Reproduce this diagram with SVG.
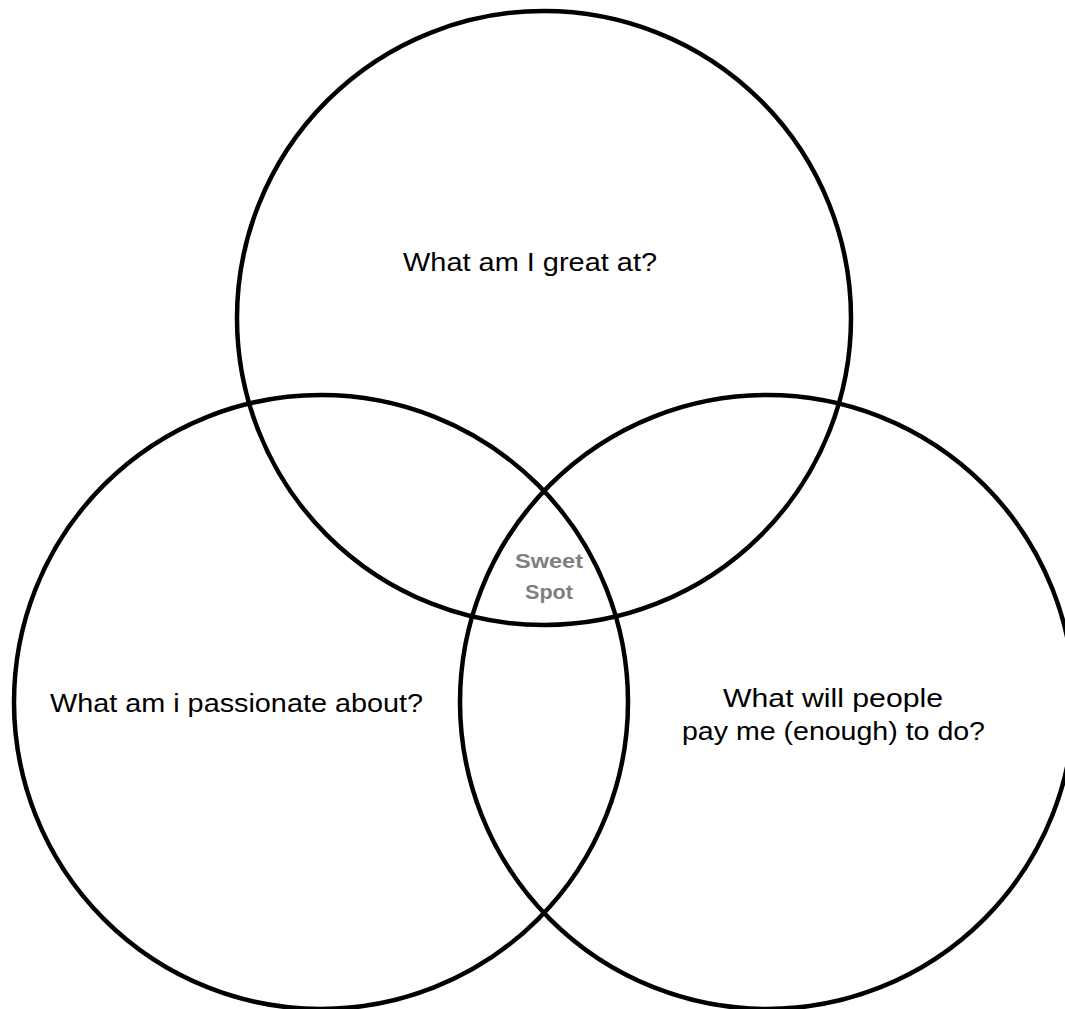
<svg xmlns="http://www.w3.org/2000/svg" width="1065" height="1009" viewBox="0 0 1065 1009">
<style>
.c{fill:none;stroke:#000;stroke-width:4.5}
.t{font-family:"Liberation Sans",Arial,sans-serif;font-size:26px;fill:#000}
.s{font-family:"Liberation Sans",Arial,sans-serif;font-size:21px;font-weight:bold;fill:#7f7f7f;text-anchor:middle}
</style>
<rect width="1065" height="1009" fill="#fff"/>
<g id="great">
<circle class="c" cx="544" cy="318" r="307"/>
<text class="t" x="403" y="271" textLength="254" lengthAdjust="spacingAndGlyphs">What am I great at?</text>
</g>
<g id="passion">
<circle class="c" cx="321" cy="702" r="307"/>
<text class="t" x="50" y="712" textLength="373" lengthAdjust="spacingAndGlyphs">What am i passionate about?</text>
</g>
<g id="pay">
<circle class="c" cx="767" cy="702" r="307"/>
<text class="t" x="723" y="707" textLength="220" lengthAdjust="spacingAndGlyphs">What will people</text>
<text class="t" x="682" y="740" textLength="303" lengthAdjust="spacingAndGlyphs">pay me (enough) to do?</text>
</g>
<g id="sweetspot">
<text class="s" x="549" y="568" textLength="68" lengthAdjust="spacingAndGlyphs">Sweet</text>
<text class="s" x="549" y="599" textLength="48" lengthAdjust="spacingAndGlyphs">Spot</text>
</g>
<g id="connectors"/>
</svg>
